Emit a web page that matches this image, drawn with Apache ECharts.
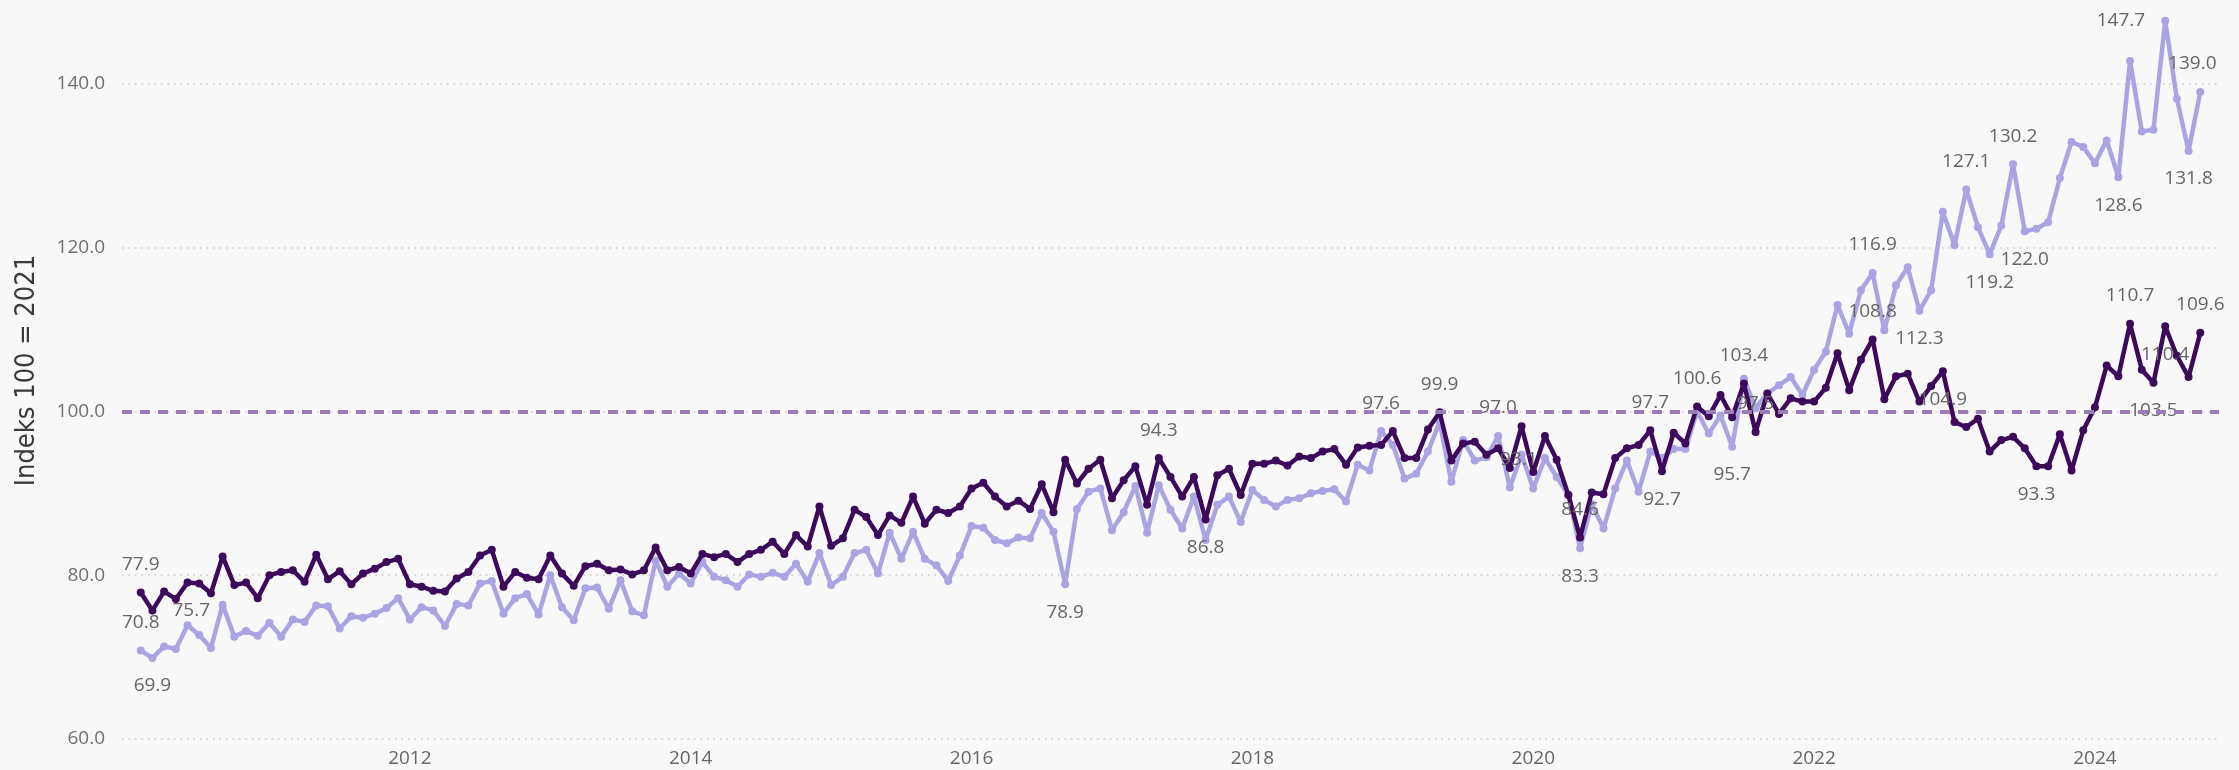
<!DOCTYPE html>
<html>
<head>
<meta charset="utf-8">
<title>Indeks 100 = 2021</title>
<script src="https://cdn.jsdelivr.net/npm/echarts@6/dist/echarts.min.js"></script>
<style>
  html, body { margin: 0; padding: 0; background: #f8f8f8; }
  #chart { width: 2239px; height: 770px; }
</style>
</head>
<body>
<div id="chart"></div>
<script>
// monthly index values, first point = Feb 2010 (month index 1 counted from Jan 2010)
const startIndex = 1;
const yearTicks = [2012, 2014, 2016, 2018, 2020, 2022, 2024];
const yTicks = [60, 80, 100, 120, 140];
const refLine = 100;

const indeksDark = [
  77.9, 75.7, 78.0, 77.1, 79.1, 79.0, 77.8, 82.3, 78.8, 79.1, 77.2, 80.0,
  80.4, 80.6, 79.2, 82.5, 79.5, 80.5, 78.9, 80.2, 80.8, 81.6, 82.0, 78.9,
  78.6, 78.1, 78.0, 79.6, 80.4, 82.4, 83.1, 78.6, 80.4, 79.7, 79.5, 82.4,
  80.2, 78.7, 81.1, 81.4, 80.6, 80.7, 80.1, 80.6, 83.4, 80.6, 81.0, 80.2,
  82.6, 82.2, 82.6, 81.6, 82.6, 83.1, 84.1, 82.6, 84.9, 83.5, 88.4, 83.6,
  84.5, 88.0, 87.1, 84.9, 87.3, 86.4, 89.6, 86.3, 88.0, 87.6, 88.4, 90.6,
  91.3, 89.6, 88.4, 89.1, 88.1, 91.1, 87.7, 94.1, 91.2, 93.0, 94.1, 89.4,
  91.6, 93.3, 88.6, 94.3, 92.0, 89.6, 92.0, 86.8, 92.2, 93.0, 89.8, 93.6,
  93.6, 94.0, 93.4, 94.5, 94.3, 95.1, 95.4, 93.5, 95.6, 95.8, 95.9, 97.6,
  94.3, 94.3, 97.8, 99.9, 94.0, 96.1, 96.3, 94.7, 95.5, 93.1, 98.2, 92.6,
  97.0, 94.1, 89.8, 84.6, 90.1, 89.9, 94.3, 95.5, 95.9, 97.7, 92.7, 97.4,
  96.1, 100.6, 99.4, 102.0, 99.3, 103.4, 97.5, 102.2, 99.7, 101.6, 101.2, 101.2,
  102.9, 107.1, 102.6, 106.3, 108.8, 101.5, 104.3, 104.6, 101.2, 103.1, 104.9, 98.7,
  98.1, 99.1, 95.1, 96.5, 96.9, 95.5, 93.3, 93.3, 97.2, 92.8, 97.7, 100.5,
  105.6, 104.3, 110.7, 105.1, 103.5, 110.4, 106.8, 104.2, 109.6
];

const indeksLight = [
  70.8, 69.9, 71.3, 71.0, 73.9, 72.7, 71.1, 76.4, 72.5, 73.2, 72.6, 74.2,
  72.5, 74.6, 74.3, 76.3, 76.2, 73.5, 75.0, 74.8, 75.3, 76.0, 77.2, 74.6,
  76.1, 75.7, 73.8, 76.5, 76.3, 79.0, 79.3, 75.3, 77.2, 77.7, 75.2, 80.0,
  76.1, 74.5, 78.4, 78.5, 75.9, 79.4, 75.6, 75.1, 81.8, 78.6, 80.2, 79.0,
  81.6, 79.8, 79.4, 78.6, 80.1, 79.8, 80.3, 79.8, 81.4, 79.2, 82.7, 78.8,
  79.8, 82.7, 83.1, 80.2, 85.2, 82.0, 85.3, 82.0, 81.2, 79.3, 82.4, 86.0,
  85.8, 84.3, 83.9, 84.6, 84.5, 87.6, 85.3, 78.9, 88.1, 90.2, 90.6, 85.5,
  87.7, 90.9, 85.2, 91.0, 88.0, 85.7, 89.6, 84.3, 88.6, 89.6, 86.5, 90.4,
  89.2, 88.4, 89.2, 89.4, 90.0, 90.3, 90.5, 89.0, 93.5, 92.8, 97.6, 95.9,
  91.8, 92.4, 95.1, 98.7, 91.4, 96.5, 94.0, 94.4, 97.0, 90.7, 94.7, 90.6,
  94.3, 92.0, 89.8, 83.3, 88.7, 85.7, 90.6, 94.0, 90.2, 95.1, 94.3, 95.4,
  95.4, 100.0, 97.3, 99.5, 95.7, 104.0, 100.4, 102.2, 103.2, 104.2, 102.0, 105.1,
  107.3, 113.0, 109.5, 114.8, 116.9, 109.9, 115.4, 117.6, 112.3, 114.8, 124.4, 120.3,
  127.1, 122.5, 119.2, 122.7, 130.2, 122.0, 122.3, 123.1, 128.5, 132.9, 132.3, 130.3,
  133.1, 128.6, 142.8, 134.2, 134.4, 147.7, 138.2, 131.8, 139.0
];

// which points carry a data label (1-based point number)
const darkLabelPoints = [1, 2, 88, 92, 112, 118, 124, 130, 131, 134, 138, 139, 149, 155, 163, 171, 173, 174, 177];
const lightLabelPoints = [1, 2, 80, 107, 117, 124, 137, 149, 153, 157, 159, 161, 162, 170, 174, 176, 177];

// label placement
const darkLabelPlace = {
  2: 'right', 92: 'bottom', 131: 'bottom', 155: 'bottom', 163: 'bottom',
  173: 'bottom', 174: 'bottom', 118: 'custom'
};
const lightLabelPlace = {
  2: 'bottom', 80: 'bottom', 124: 'bottom', 137: 'bottom', 153: 'bottom',
  159: 'bottom', 162: 'bottom', 170: 'bottom', 176: 'bottom', 174: 'left', 177: 'topLeft'
};

const darkColor = '#3d0a5b';
const lightColor = '#aaa5e2';
const font = "'Open Sans', 'Segoe UI', sans-serif";

function buildData(values, labelPoints, place) {
  return values.map((v, i) => {
    const n = i + 1;
    const item = { value: [startIndex + i, v] };
    if (labelPoints.indexOf(n) >= 0) {
      const p = place[n] || 'top';
      const lbl = { show: true, position: p, distance: 14 };
      if (p === 'right' || p === 'left') lbl.distance = 16;
      if (p === 'custom') { lbl.position = 'inside'; lbl.offset = [9, -8]; }
      if (p === 'topLeft') { lbl.position = 'top'; lbl.offset = [-8, 0]; }
      item.label = lbl;
    }
    return item;
  });
}

const labelStyle = {
  show: false,
  color: '#666666',
  fontFamily: font,
  fontSize: 19,
  lineHeight: 20,
  formatter: p => p.value[1].toFixed(1)
};

let chart = echarts.init(document.getElementById('chart'));
chart.setOption({
  backgroundColor: '#f8f8f8',
  animation: false,
  grid: { left: 122, right: 20, top: 2, bottom: 31 },
  xAxis: {
    type: 'value',
    min: -0.6,
    max: 178.6,
    axisLine: { show: false },
    axisTick: { show: false },
    splitLine: { show: false },
    axisLabel: {
      customValues: yearTicks.map(y => (y - 2010) * 12),
      formatter: v => String(2010 + Math.round(v / 12)),
      color: '#666666',
      fontFamily: font,
      fontSize: 19,
      margin: 10
    }
  },
  yAxis: {
    type: 'value',
    min: 60,
    max: 150,
    interval: 20,
    name: 'Indeks 100 = 2021',
    nameLocation: 'middle',
    nameGap: 82,
    nameTextStyle: {
      color: '#3a3a3a',
      fontFamily: "'Liberation Sans Narrow', 'DejaVu Sans Condensed', sans-serif",
      fontSize: 27
    },
    axisLine: { show: false },
    axisTick: { show: false },
    axisLabel: {
      customValues: yTicks,
      formatter: v => v.toFixed(1),
      color: '#707070',
      fontFamily: font,
      fontSize: 19,
      margin: 17
    },
    splitLine: {
      showMaxLine: false,
      lineStyle: { color: '#c8c8c8', width: 1.5, type: [1.5, 5] }
    }
  },
  series: [
    {
      name: 'light',
      type: 'line',
      data: buildData(indeksLight, lightLabelPoints, lightLabelPlace),
      symbol: 'circle',
      symbolSize: 8,
      showAllSymbol: true,
      lineStyle: { color: lightColor, width: 4.5 },
      itemStyle: { color: lightColor },
      label: labelStyle,
      z: 2
    },
    {
      name: 'dark',
      type: 'line',
      data: buildData(indeksDark, darkLabelPoints, darkLabelPlace),
      symbol: 'circle',
      symbolSize: 8,
      showAllSymbol: true,
      lineStyle: { color: darkColor, width: 4.5 },
      itemStyle: { color: darkColor },
      label: labelStyle,
      markLine: {
        silent: true,
        symbol: 'none',
        label: { show: false },
        lineStyle: { color: '#9a7db5', width: 4, type: [10, 8] },
        data: [{ yAxis: refLine }]
      },
      z: 3
    }
  ]
});
</script>
</body>
</html>
